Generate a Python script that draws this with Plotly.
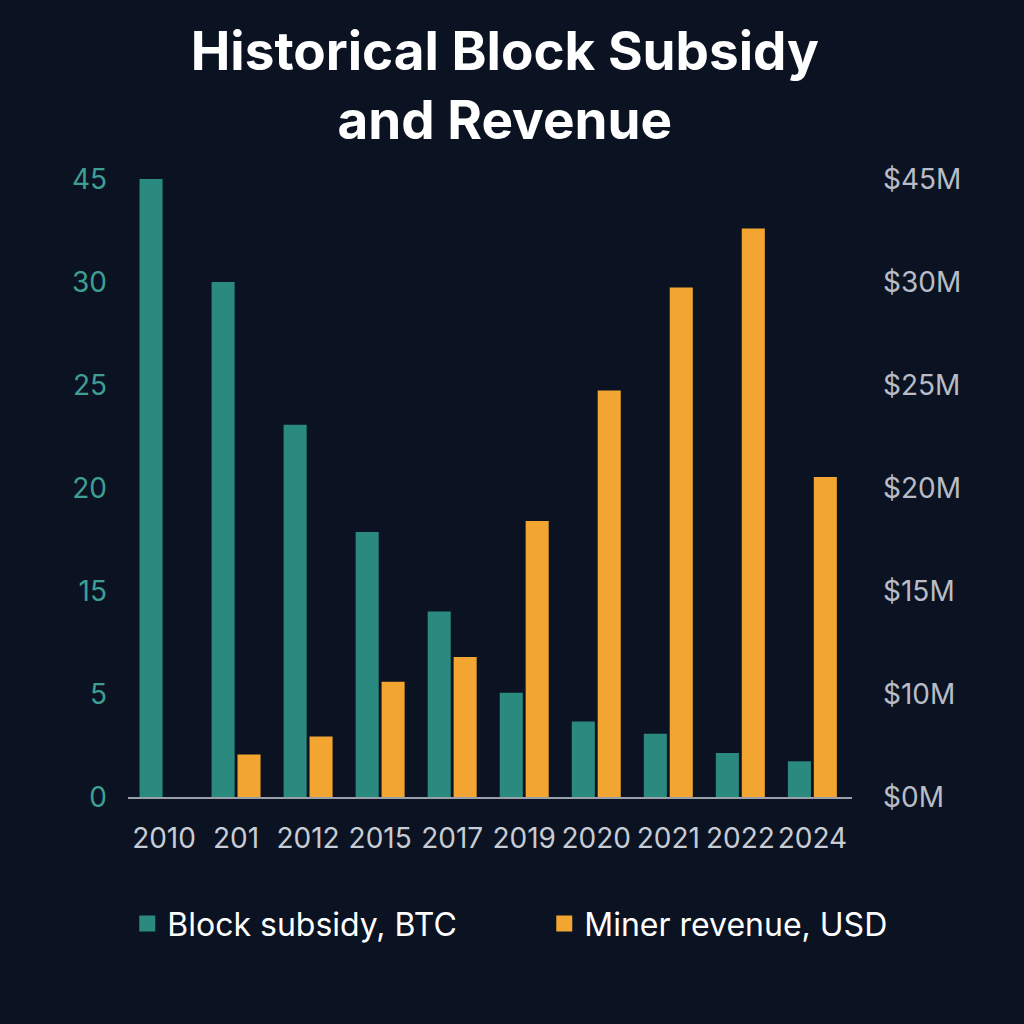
import plotly.graph_objects as go

years = ["2010", "201", "2012", "2015", "2017", "2019", "2020", "2021", "2022", "2024"]
# heights read in the chart's (evenly spaced) axis units, 0..45 top of scale
subsidy_btc = [45, 37.5, 27.1, 19.3, 13.5, 7.6, 5.5, 4.6, 3.2, 2.6]
revenue_musd = [None, 3.1, 4.4, 8.4, 10.2, 20.1, 29.6, 37.1, 41.4, 23.3]

tick_vals = [0, 7.5, 15, 22.5, 30, 37.5, 45]
left_tick_text = ["0", "5", "15", "20", "25", "30", "45"]
right_tick_text = ["$0M", "$10M", "$15M", "$20M", "$25M", "$30M", "$45M"]

BG = "#0b1322"
TEAL = "#2a8a80"
ORANGE = "#f2a531"

fig = go.Figure()
fig.add_trace(go.Bar(x=years, y=subsidy_btc, name="Block subsidy, BTC",
                     marker=dict(color=TEAL, line=dict(width=0)),
                     width=0.32, offset=-0.34, showlegend=False, yaxis="y"))
fig.add_trace(go.Bar(x=years, y=revenue_musd, name="Miner revenue, USD",
                     marker=dict(color=ORANGE, line=dict(width=0)),
                     width=0.32, offset=0.02, showlegend=False, yaxis="y2"))
# legend swatches
fig.add_trace(go.Scatter(x=[None], y=[None], mode="markers", name="Block subsidy, BTC",
                         marker=dict(symbol="square", size=24, color=TEAL)))
fig.add_trace(go.Scatter(x=[None], y=[None], mode="markers", name="Miner revenue, USD",
                         marker=dict(symbol="square", size=24, color=ORANGE)))

fig.update_layout(
    width=1024, height=1024,
    paper_bgcolor=BG, plot_bgcolor=BG,
    margin=dict(l=128, r=172, t=179, b=227),
    font=dict(family="Inter, Roboto, sans-serif", color="#c8ccd4"),
    title=dict(text="<b>Historical Block Subsidy<br>and Revenue</b>",
               x=0.493, xanchor="center", y=0.932, yanchor="middle",
               font=dict(size=53, color="#ffffff", family="Inter, sans-serif")),
    xaxis=dict(type="category", showgrid=False, zeroline=False,
               showline=True, linecolor="#9aa0aa", linewidth=1.5,
               ticks="", tickfont=dict(size=28, color="#c8ccd4"),
               ticklabelstandoff=16, range=[-0.5, 9.55]),
    yaxis=dict(range=[0, 45], tickvals=tick_vals, ticktext=left_tick_text,
               showgrid=False, zeroline=False, showline=False, ticks="",
               tickfont=dict(size=28, color="#3f9e94"), ticklabelstandoff=20),
    yaxis2=dict(range=[0, 45], tickvals=tick_vals, ticktext=right_tick_text,
                overlaying="y", side="right", anchor="x",
                showgrid=False, zeroline=False, showline=False, ticks="",
                tickfont=dict(size=28, color="#b8bcc6"), ticklabelstandoff=30),
    legend=dict(orientation="h", x=-0.001, xanchor="left", y=-0.205, yanchor="middle",
                font=dict(size=32, color="#ffffff"), itemsizing="trace",
                entrywidth=372, bgcolor="rgba(0,0,0,0)"),
    bargap=0.3,
)

fig.write_html("out.html", config={"displayModeBar": False},
               post_script="document.body.style.margin='0';document.body.style.background='#0b1322';")
